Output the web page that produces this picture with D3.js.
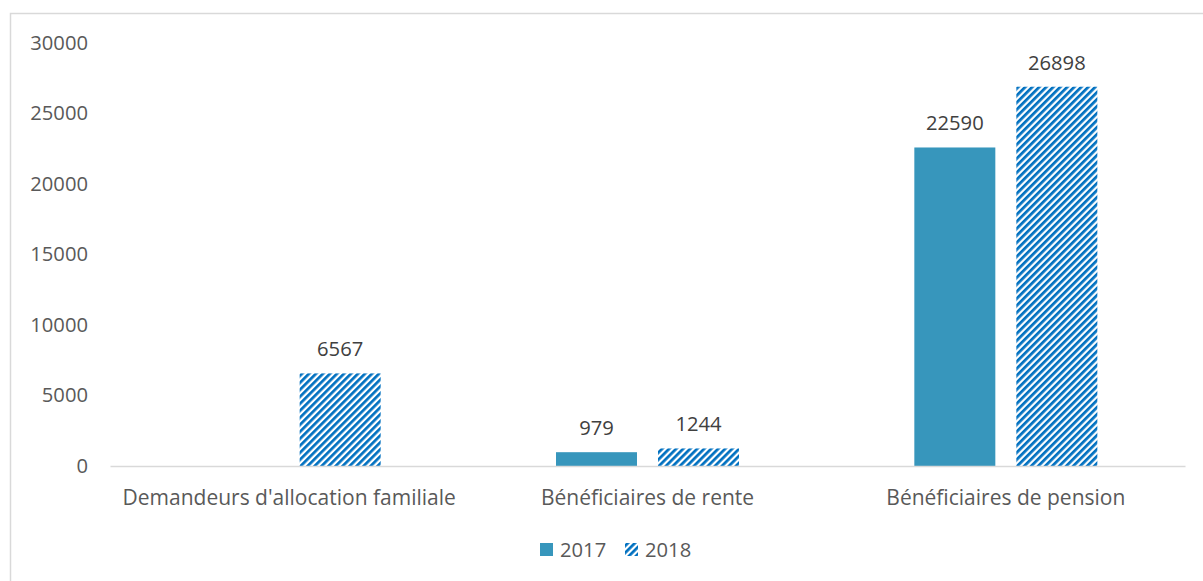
<!DOCTYPE html>
<html>
<head>
<meta charset="utf-8">
<script src="https://cdn.jsdelivr.net/npm/d3@7"></script>
<style>
  html, body { margin: 0; padding: 0; background: #fff; }
  svg { display: block; }
  text { font-family: "Open Sans", sans-serif; }
</style>
</head>
<body>
<svg id="chart" width="1203" height="581"></svg>
<script>
// Chart data
const categories = ["Demandeurs d'allocation familiale", "Bénéficiaires de rente", "Bénéficiaires de pension"];
const seriesNames = ["2017", "2018"];
const values2017 = [null, 979, 22590];
const values2018 = [6567, 1244, 26898];
const yTicks = [0, 5000, 10000, 15000, 20000, 25000, 30000];

const seriesValues = [values2017, values2018];

const svg = d3.select("#chart");
const W = 1203, H = 581;
const plot = { left: 110, right: 1185, top: 43, bottom: 466 };
const FONT = "'Open Sans', sans-serif";
const FS = 20.2;      // numbers and legend
const FS_CAT = 21;    // category labels

// chart area frame
svg.append("rect")
  .attr("x", 10.5).attr("y", 13.5)
  .attr("width", W + 20).attr("height", H + 20)
  .attr("fill", "#fff")
  .attr("stroke", "#d9d9d9").attr("stroke-width", 1.5);

// diagonal hatch for the 2018 series
const defs = svg.append("defs");
const P = 4.95;
const pat = defs.append("pattern")
  .attr("id", "hatch")
  .attr("patternUnits", "userSpaceOnUse")
  .attr("width", P).attr("height", 10)
  .attr("patternTransform", "rotate(45)");
pat.append("rect").attr("width", P).attr("height", 10).attr("fill", "#ffffff");
pat.append("rect").attr("width", P * 0.55).attr("height", 10).attr("fill", "#0070c0");

const fills = ["#3796bc", "url(#hatch)"];

const x0 = d3.scaleBand().domain(categories).range([plot.left, plot.right]).paddingInner(0).paddingOuter(0);
const x1 = d3.scaleBand().domain(seriesNames).range([0, 183]).paddingInner(0.206).paddingOuter(0);
const y = d3.scaleLinear().domain([0, 30000]).range([plot.bottom, plot.top]);

// y axis labels (no axis line, no gridlines)
const yAxis = d3.axisLeft(y).tickValues(yTicks).tickSize(0).tickPadding(0).tickFormat(d3.format("d"));
const gy = svg.append("g").attr("transform", `translate(${88},0)`).call(yAxis);
gy.select(".domain").remove();
gy.selectAll("text")
  .attr("fill", "#595959")
  .attr("font-size", FS)
  .attr("font-family", FONT);

// bars
const groups = svg.append("g").selectAll("g")
  .data(categories)
  .join("g")
  .attr("transform", d => `translate(${x0(d) + (x0.bandwidth() - 183) / 2},0)`);

groups.each(function(cat, ci) {
  const g = d3.select(this);
  seriesNames.forEach((s, si) => {
    const v = seriesValues[si][ci];
    if (v == null) return;
    g.append("rect")
      .attr("x", x1(s))
      .attr("y", y(v))
      .attr("width", x1.bandwidth())
      .attr("height", y(0) - y(v))
      .attr("fill", fills[si]);
    g.append("text")
      .attr("x", x1(s) + x1.bandwidth() / 2)
      .attr("y", y(v) - 17)
      .attr("text-anchor", "middle")
      .attr("font-size", FS)
      .attr("fill", "#404040")
      .text(v);
  });
});

// x axis
const xAxis = d3.axisBottom(x0).tickSize(0).tickPadding(0);
const gx = svg.append("g").attr("transform", `translate(0,${plot.bottom})`).call(xAxis);
gx.select(".domain").attr("stroke", "#d9d9d9").attr("stroke-width", 1.5);
gx.selectAll("text")
  .attr("y", 39)
  .attr("dy", 0)
  .attr("fill", "#595959")
  .attr("font-size", FS_CAT)
  .attr("font-family", FONT);

// legend
const legendItems = [
  { name: "2017", x: 540 },
  { name: "2018", x: 625 }
];
const lg = svg.append("g");
legendItems.forEach((it, i) => {
  lg.append("rect")
    .attr("x", it.x).attr("y", 543)
    .attr("width", 13).attr("height", 13)
    .attr("fill", fills[i]);
  lg.append("text")
    .attr("x", it.x + 20).attr("y", 557)
    .attr("font-size", FS)
    .attr("fill", "#595959")
    .text(it.name);
});
</script>
</body>
</html>
